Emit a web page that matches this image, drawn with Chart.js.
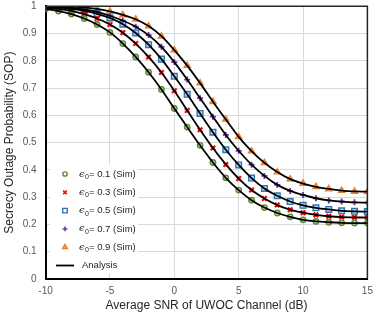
<!DOCTYPE html>
<html>
<head>
<meta charset="utf-8">
<script src="https://cdn.jsdelivr.net/npm/chart.js@4.4.1/dist/chart.umd.min.js"></script>
<style>
html, body { margin: 0; padding: 0; background: #fff; }
#wrap { width: 374px; height: 318px; }
</style>
</head>
<body>
<div id="wrap"><canvas id="myChart"></canvas></div>
<script>
'use strict';

// average SNR of UWOC channel (dB)
const snr = [-10, -9, -8, -7, -6, -5, -4, -3, -2, -1, 0, 1, 2, 3, 4, 5, 6, 7, 8, 9, 10, 11, 12, 13, 14, 15];

// SOP, one list per epsilon_0
const sop_e01 = [0.99, 0.982, 0.971, 0.955, 0.933, 0.904, 0.863, 0.814, 0.758, 0.695, 0.625, 0.557, 0.49, 0.427, 0.371, 0.326, 0.289, 0.262, 0.242, 0.228, 0.217, 0.211, 0.208, 0.206, 0.205, 0.205];
const sop_e03 = [0.995, 0.99, 0.983, 0.971, 0.955, 0.933, 0.903, 0.863, 0.814, 0.757, 0.69, 0.618, 0.547, 0.48, 0.42, 0.368, 0.326, 0.295, 0.271, 0.254, 0.243, 0.235, 0.23, 0.227, 0.226, 0.225];
const sop_e05 = [0.998, 0.995, 0.99, 0.983, 0.972, 0.957, 0.934, 0.902, 0.859, 0.806, 0.743, 0.677, 0.607, 0.538, 0.474, 0.418, 0.37, 0.332, 0.305, 0.284, 0.27, 0.261, 0.255, 0.25, 0.248, 0.247];
const sop_e07 = [0.999, 0.997, 0.994, 0.988, 0.979, 0.965, 0.947, 0.925, 0.894, 0.851, 0.795, 0.731, 0.663, 0.595, 0.528, 0.47, 0.419, 0.378, 0.345, 0.323, 0.308, 0.296, 0.288, 0.284, 0.281, 0.28];
const sop_e09 = [1.0, 0.999, 0.998, 0.996, 0.99, 0.981, 0.968, 0.952, 0.927, 0.89, 0.839, 0.782, 0.718, 0.65, 0.585, 0.521, 0.469, 0.426, 0.392, 0.366, 0.35, 0.338, 0.33, 0.324, 0.321, 0.32];

const eps_values = ['0.1', '0.3', '0.5', '0.7', '0.9'];
const analysis_label = 'Analysis';
const x_title = 'Average SNR of UWOC Channel (dB)';
const y_title = 'Secrecy Outage Probability (SOP)';

var series = [sop_e01, sop_e03, sop_e05, sop_e07, sop_e09];
var markers = [
    { pointStyle: 'circle',   radius: 2.7, border: '#5a8a3a', fill: 'rgba(112,173,71,0.5)', bw: 1.4, lbw: 1.4 },
    { pointStyle: 'crossRot', radius: 3.2, border: '#ff0000', fill: '#ff0000', bw: 2.2, lbw: 1.6 },
    { pointStyle: 'rect',     radius: 4.0, border: '#2e75b6', fill: 'rgba(91,155,213,0.4)', bw: 1.4, lbw: 1.4 },
    { pointStyle: 'cross',    radius: 3.0, border: '#7030a0', fill: '#7030a0', bw: 1.8, lbw: 1.5 },
    { pointStyle: 'triangle', radius: 3.6, border: '#ed7d31', fill: '#f4a460', bw: 1.3, lbw: 1.3 },
];

function toPoints(arr){
    return arr.map((v, i) => ({ x: snr[i], y: v }));
}

var datasets = [];
// analysis curves (drawn on top)
for( var i = 0 ; i < series.length ; i++ ){
    datasets.push({
        label: 'analysis' + i,
        data: toPoints(series[i]),
        showLine: true,
        borderColor: '#000',
        borderWidth: 1.8,
        pointRadius: 0,
        cubicInterpolationMode: 'monotone',
        order: 0,
    });
}
// simulation markers
for( var i = 0 ; i < series.length ; i++ ){
    var m = markers[i];
    datasets.push({
        label: 'sim' + i,
        data: toPoints(series[i]),
        showLine: false,
        pointStyle: m.pointStyle,
        pointRadius: m.radius,
        borderColor: m.border,
        backgroundColor: m.fill,
        pointBorderWidth: m.bw,
        order: 1,
    });
}

// frame on top/right + legend box inside the plot
const framePlugin = {
    id: 'frame',
    afterDraw(chart){
        const ctx = chart.ctx;
        const a = chart.chartArea;
        ctx.save();
        ctx.strokeStyle = '#262626';
        ctx.lineWidth = 1.5;
        ctx.beginPath();
        ctx.moveTo(a.left, a.top);
        ctx.lineTo(a.right, a.top);
        ctx.lineTo(a.right, a.bottom);
        ctx.stroke();

        // legend
        var bx = 50, by = 165, bw = 88, bh = 108;
        ctx.fillStyle = '#fff';
        ctx.fillRect(bx, by, bw, bh);
        var rowY = 174, step = 18.3;
        ctx.textBaseline = 'middle';
        for( var i = 0 ; i < series.length ; i++ ){
            var m = markers[i];
            var y = rowY + i * step;
            ctx.strokeStyle = m.border;
            ctx.fillStyle = i == 0 || i == 2 ? '#fff' : m.fill;
            ctx.lineWidth = m.lbw;
            Chart.helpers.drawPoint(ctx, { pointStyle: m.pointStyle, radius: m.radius * 0.8, borderWidth: m.lbw, rotation: 0 }, 65, y);
            var tx = 79;
            ctx.fillStyle = '#262626';
            ctx.font = 'italic 10px "DejaVu Serif"';
            ctx.fillText('\u03F5', tx, y);
            tx += ctx.measureText('\u03F5').width + 0.5;
            ctx.font = '7px "Liberation Sans"';
            ctx.fillText('0', tx, y + 3);
            tx += ctx.measureText('0').width;
            ctx.font = '9.5px "Liberation Sans"';
            ctx.fillText('= ' + eps_values[i] + ' (Sim)', tx, y);
        }
        var ay = rowY + 5 * step;
        ctx.strokeStyle = '#000';
        ctx.lineWidth = 1.8;
        ctx.beginPath();
        ctx.moveTo(56, ay);
        ctx.lineTo(74, ay);
        ctx.stroke();
        ctx.fillStyle = '#262626';
        ctx.font = '9.5px "Liberation Sans"';
        ctx.fillText(analysis_label, 82, ay);
        ctx.restore();
    }
};

const ctx = document.getElementById('myChart');
var myChart = new Chart(ctx, {
    type: 'scatter',
    data: { datasets: datasets },
    plugins: [framePlugin],
    options: {
        responsive: true,
        maintainAspectRatio: false,
        animation: false,
        layout: { padding: 0 },
        plugins: {
            legend: { display: false },
            tooltip: { enabled: false },
        },
        scales: {
            x: {
                type: 'linear',
                min: -10,
                max: 15,
                ticks: {
                    stepSize: 5,
                    padding: 6,
                    color: '#595959',
                    font: { family: '"Liberation Sans"', size: 10 },
                },
                grid: { color: '#d9d9d9', lineWidth: 1, drawTicks: false },
                border: { color: '#000', width: 2 },
                title: {
                    display: true,
                    text: x_title,
                    color: '#262626',
                    font: { family: '"Liberation Sans"', size: 12 },
                    padding: { top: 0, bottom: 5 },
                },
                afterFit: function(scale){
                    scale.height = 39;
                    scale.paddingLeft = 0;
                    scale.paddingRight = 6.6;
                },
            },
            y: {
                min: 0,
                max: 1,
                ticks: {
                    stepSize: 0.1,
                    padding: 9,
                    color: '#595959',
                    font: { family: '"Liberation Sans"', size: 10 },
                    callback: function(v){ return String(Number(v.toFixed(1))); },
                },
                grid: { color: '#d9d9d9', lineWidth: 1, drawTicks: false },
                border: { color: '#000', width: 2 },
                title: {
                    display: true,
                    text: y_title,
                    color: '#262626',
                    font: { family: '"Liberation Sans"', size: 12 },
                    padding: { top: 2, bottom: 0 },
                },
                afterFit: function(scale){
                    scale.width = 45.6;
                    scale.paddingTop = 6;
                    scale.paddingBottom = 0;
                },
            }
        }
    }
});
</script>
</body>
</html>
